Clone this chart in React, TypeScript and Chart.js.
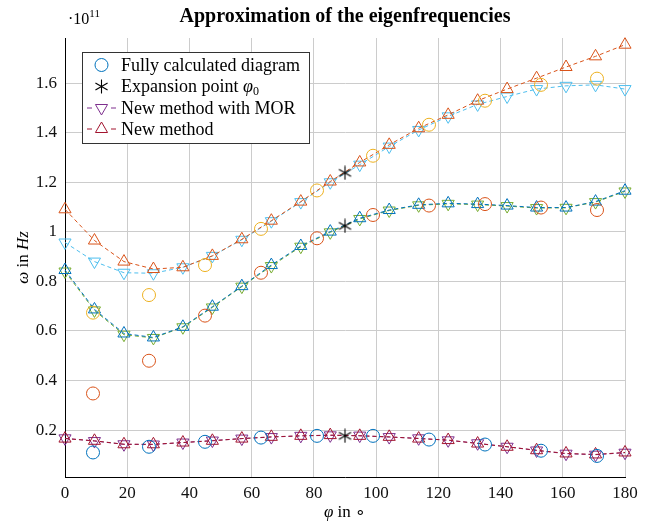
import React, { useEffect, useRef } from 'react';
import { Chart, registerables } from 'chart.js';

Chart.register(...registerables);

// ---- data (values in units of 1e11 Hz) ----
const phiFine = [0, 9.47, 18.95, 28.42, 37.89, 47.37, 56.84, 66.32, 75.79, 85.26, 94.74, 104.21, 113.68, 123.16, 132.63, 142.11, 151.58, 161.05, 170.53, 180];
const phiFull = [9, 27, 45, 63, 81, 99, 117, 135, 153, 171];
const phiExpansion = [90, 90, 90];

const fullLow = [0.110, 0.133, 0.153, 0.170, 0.177, 0.177, 0.162, 0.142, 0.117, 0.096];
const fullMid = [0.348, 0.480, 0.662, 0.835, 0.974, 1.068, 1.106, 1.112, 1.098, 1.088];
const fullHigh = [0.674, 0.745, 0.866, 1.012, 1.167, 1.307, 1.432, 1.529, 1.593, 1.618];
const expansion = [0.177, 1.024, 1.238];

const morLow = [0.167, 0.156, 0.143, 0.142, 0.150, 0.158, 0.166, 0.172, 0.177, 0.179, 0.178, 0.172, 0.167, 0.159, 0.147, 0.133, 0.118, 0.105, 0.101, 0.109];
const newLow = [0.166, 0.157, 0.143, 0.143, 0.150, 0.157, 0.166, 0.173, 0.177, 0.180, 0.177, 0.173, 0.166, 0.160, 0.146, 0.133, 0.119, 0.106, 0.102, 0.110];
const morMid = [0.840, 0.683, 0.585, 0.572, 0.615, 0.695, 0.779, 0.862, 0.940, 0.998, 1.052, 1.086, 1.107, 1.113, 1.110, 1.104, 1.096, 1.097, 1.120, 1.163];
const newMid = [0.846, 0.687, 0.590, 0.574, 0.617, 0.698, 0.781, 0.866, 0.943, 1.001, 1.055, 1.088, 1.109, 1.115, 1.112, 1.106, 1.098, 1.098, 1.122, 1.166];
const morHigh = [0.957, 0.880, 0.835, 0.833, 0.857, 0.903, 0.968, 1.043, 1.120, 1.200, 1.271, 1.344, 1.411, 1.466, 1.514, 1.546, 1.576, 1.589, 1.593, 1.576];
const newHigh = [1.091, 0.965, 0.880, 0.850, 0.857, 0.903, 0.970, 1.045, 1.122, 1.203, 1.280, 1.351, 1.418, 1.472, 1.529, 1.576, 1.620, 1.665, 1.708, 1.755];

const xTicks = [0, 20, 40, 60, 80, 100, 120, 140, 160, 180];
const yTicks = [0.2, 0.4, 0.6, 0.8, 1.0, 1.2, 1.4, 1.6];

const TITLE = 'Approximation of the eigenfrequencies';
const LEGEND_LABELS = ['Fully calculated diagram', 'Expansion point ', 'New method with MOR', 'New method'];

const C_BLUE = '#0072BD';
const C_ORANGE = '#D95319';
const C_YELLOW = '#EDB120';
const C_PURPLE = '#7E2F8E';
const C_GREEN = '#77AC30';
const C_LIGHTBLUE = '#4DBEEE';
const C_DARKRED = '#A2142F';

const FONT = '"Liberation Serif", "Times New Roman", serif';

function pts(xs: number[], ys: number[]) {
  return xs.map((x, i) => ({ x, y: ys[i] }));
}

function makeStar(size: number, color: string) {
  const c = document.createElement('canvas');
  c.width = size;
  c.height = size;
  const ctx = c.getContext('2d')!;
  ctx.strokeStyle = color;
  ctx.lineWidth = 1.1;
  const r = size / 2 - 0.5;
  const m = size / 2;
  for (let i = 0; i < 3; i++) {
    const a = Math.PI / 2 + (i * Math.PI) / 3;
    ctx.beginPath();
    ctx.moveTo(m + r * Math.cos(a), m + r * Math.sin(a));
    ctx.lineTo(m - r * Math.cos(a), m - r * Math.sin(a));
    ctx.stroke();
  }
  return c;
}

function triangle(ctx: CanvasRenderingContext2D, x: number, y: number, r: number, down: boolean) {
  let rad = down ? Math.PI : 0;
  ctx.beginPath();
  for (let i = 0; i < 3; i++) {
    const px = x + Math.sin(rad) * r;
    const py = y - Math.cos(rad) * r;
    if (i === 0) ctx.moveTo(px, py);
    else ctx.lineTo(px, py);
    rad += (2 * Math.PI) / 3;
  }
  ctx.closePath();
  ctx.stroke();
}

type Run = { text: string; font: string; dy?: number };

function runsWidth(ctx: CanvasRenderingContext2D, runs: Run[]) {
  let w = 0;
  for (const r of runs) {
    ctx.font = r.font;
    w += ctx.measureText(r.text).width;
  }
  return w;
}

function drawRuns(ctx: CanvasRenderingContext2D, runs: Run[], x: number, y: number) {
  ctx.textAlign = 'left';
  ctx.textBaseline = 'alphabetic';
  let cx = x;
  for (const r of runs) {
    ctx.font = r.font;
    ctx.fillText(r.text, cx, y + (r.dy || 0));
    cx += ctx.measureText(r.text).width;
  }
}

export default function App() {
  const ref = useRef<HTMLCanvasElement>(null);

  useEffect(() => {
    const canvas = ref.current!;
    const star = makeStar(15, '#000');

    const decor = {
      id: 'decor',
      afterDraw(chart: any) {
        const ctx: CanvasRenderingContext2D = chart.ctx;
        const area = chart.chartArea;
        ctx.save();
        ctx.fillStyle = '#000';

        // title
        ctx.font = `bold 20px ${FONT}`;
        ctx.textAlign = 'center';
        ctx.textBaseline = 'middle';
        ctx.fillText(TITLE, (area.left + area.right) / 2, 17);

        // exponent
        drawRuns(ctx, [
          { text: '·10', font: `16px ${FONT}` },
          { text: '11', font: `11px ${FONT}`, dy: -7 },
        ], 68, 24);

        // x label
        const xRuns: Run[] = [
          { text: 'φ', font: `italic 17px ${FONT}` },
          { text: ' in ', font: `17px ${FONT}` },
          { text: '∘', font: `17px ${FONT}` },
        ];
        const xw = runsWidth(ctx, xRuns);
        drawRuns(ctx, xRuns, (area.left + area.right) / 2 - xw / 2, 517);

        // y label
        const yRuns: Run[] = [
          { text: 'ω', font: `italic 17px ${FONT}` },
          { text: ' in ', font: `17px ${FONT}` },
          { text: 'Hz', font: `italic 17px ${FONT}` },
        ];
        const yw = runsWidth(ctx, yRuns);
        ctx.save();
        ctx.translate(28, (area.top + area.bottom) / 2);
        ctx.rotate(-Math.PI / 2);
        drawRuns(ctx, yRuns, -yw / 2, 0);
        ctx.restore();

        // legend
        const bx = 82.5, by = 52.5, bw = 227, bh = 91;
        ctx.fillStyle = '#fff';
        ctx.fillRect(bx, by, bw, bh);
        ctx.strokeStyle = '#333';
        ctx.lineWidth = 1;
        ctx.strokeRect(bx, by, bw, bh);

        const mx = 101.5;
        const tx = 121;
        const rows = [65, 86.5, 108, 129];
        ctx.lineWidth = 1;
        // row 1: circle
        ctx.strokeStyle = C_BLUE;
        ctx.beginPath();
        ctx.arc(mx, rows[0], 6.5, 0, Math.PI * 2);
        ctx.stroke();
        // row 2: star
        ctx.drawImage(star, mx - star.width / 2, rows[1] - star.height / 2);
        // row 3: MOR
        ctx.strokeStyle = C_PURPLE;
        ctx.beginPath();
        ctx.moveTo(87, rows[2]); ctx.lineTo(92, rows[2]);
        ctx.moveTo(111, rows[2]); ctx.lineTo(116, rows[2]);
        ctx.stroke();
        triangle(ctx, mx, rows[2], 7, true);
        // row 4: new method
        ctx.strokeStyle = C_DARKRED;
        ctx.beginPath();
        ctx.moveTo(87, rows[3]); ctx.lineTo(92, rows[3]);
        ctx.moveTo(111, rows[3]); ctx.lineTo(116, rows[3]);
        ctx.stroke();
        triangle(ctx, mx, rows[3], 7, false);

        ctx.fillStyle = '#000';
        const lf = `18px ${FONT}`;
        const base = 5.5;
        drawRuns(ctx, [{ text: LEGEND_LABELS[0], font: lf }], tx, rows[0] + base);
        drawRuns(ctx, [
          { text: LEGEND_LABELS[1], font: lf },
          { text: 'φ', font: `italic 18px ${FONT}` },
          { text: '0', font: `12px ${FONT}`, dy: 3 },
        ], tx, rows[1] + base);
        drawRuns(ctx, [{ text: LEGEND_LABELS[2], font: lf }], tx, rows[2] + base);
        drawRuns(ctx, [{ text: LEGEND_LABELS[3], font: lf }], tx, rows[3] + base);

        ctx.restore();
      },
    };

    const dashed = (label: string, xs: number[], ys: number[], color: string, down: boolean, order: number) => ({
      label,
      data: pts(xs, ys),
      showLine: true,
      borderColor: color,
      borderWidth: 1,
      borderDash: [4, 3],
      pointStyle: 'triangle',
      pointRotation: down ? 180 : 0,
      pointRadius: 7,
      pointBorderWidth: 1,
      pointBorderColor: color,
      pointBackgroundColor: 'rgba(0,0,0,0)',
      clip: false,
      order,
    });

    const circles = (label: string, ys: number[], color: string, order: number) => ({
      label,
      data: pts(phiFull, ys),
      showLine: false,
      pointStyle: 'circle',
      pointRadius: 6.5,
      pointBorderWidth: 1,
      pointBorderColor: color,
      pointBackgroundColor: 'rgba(0,0,0,0)',
      clip: false,
      order,
    });

    const chart = new Chart(canvas, {
      type: 'scatter',
      data: {
        datasets: [
          circles('Fully calculated diagram', fullLow, C_BLUE, 1),
          circles('Fully calculated (2)', fullMid, C_ORANGE, 1),
          circles('Fully calculated (3)', fullHigh, C_YELLOW, 1),
          {
            label: 'Expansion point',
            data: pts(phiExpansion, expansion),
            showLine: false,
            pointStyle: star,
            pointRadius: 7,
            clip: false,
            order: 0,
          } as any,
          dashed('New method with MOR', phiFine, morLow, C_PURPLE, true, 3),
          dashed('New method', phiFine, newLow, C_DARKRED, false, 2),
          dashed('MOR (2)', phiFine, morMid, C_GREEN, true, 3),
          dashed('New (2)', phiFine, newMid, C_BLUE, false, 2),
          dashed('MOR (3)', phiFine, morHigh, C_LIGHTBLUE, true, 3),
          dashed('New (3)', phiFine, newHigh, C_ORANGE, false, 2),
        ] as any,
      },
      options: {
        animation: false,
        responsive: false,
        devicePixelRatio: 1,
        layout: { padding: { top: 38, right: 20, left: 0, bottom: 0 } },
        plugins: {
          legend: { display: false },
          tooltip: { enabled: false },
          title: { display: false },
        },
        scales: {
          x: {
            type: 'linear',
            min: 0,
            max: 180,
            afterFit: (s: any) => { s.height = 46; },
            afterBuildTicks: (s: any) => { s.ticks = xTicks.map((v) => ({ value: v })); },
            grid: { color: '#cccccc', lineWidth: 1, drawTicks: false },
            border: { display: true, color: '#000', width: 1 },
            ticks: {
              padding: 6,
              color: '#111',
              font: { family: FONT, size: 17 },
              maxRotation: 0,
              callback: (v: any) => String(v),
            },
          },
          y: {
            type: 'linear',
            min: 0.011,
            max: 1.782,
            afterFit: (s: any) => { s.width = 65; },
            afterBuildTicks: (s: any) => { s.ticks = yTicks.map((v) => ({ value: v })); },
            grid: { color: '#cccccc', lineWidth: 1, drawTicks: false },
            border: { display: true, color: '#000', width: 1 },
            ticks: {
              padding: 8,
              color: '#111',
              font: { family: FONT, size: 17 },
              callback: (v: any) => String(Number(Number(v).toFixed(1))),
            },
          },
        },
      } as any,
      plugins: [decor],
    });

    return () => chart.destroy();
  }, []);

  return (
    <div style={{ position: 'fixed', left: 0, top: 0, width: 645, height: 523, background: '#fff' }}>
      <canvas ref={ref} width={645} height={523} style={{ display: 'block', width: 645, height: 523 }} />
    </div>
  );
}
